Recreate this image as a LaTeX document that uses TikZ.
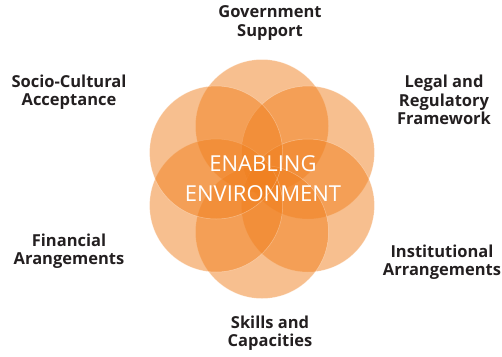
\documentclass[tikz,border=0pt]{standalone}
\usepackage{fontspec}
\usetikzlibrary{calc}
\setmainfont{Open Sans}
\newfontfamily\labelfont{Open Sans}
\definecolor{petal}{RGB}{240,128,31}
\definecolor{labeltext}{RGB}{35,31,32}
\begin{document}
\begin{tikzpicture}[x=1pt,y=-1pt,
  petalc/.style={circle, minimum size=133pt, inner sep=0pt, fill=petal, fill opacity=0.5, draw=white, draw opacity=0.35, line width=0.5pt},
  lab/.style={font=\labelfont\bfseries\fontsize{16.5}{18.5}\selectfont, text=labeltext, align=center},
  core/.style={font=\fontsize{22}{30}\selectfont, text=white, align=center}]
\useasboundingbox (0,0) rectangle (502,356);
\coordinate (c) at (262,179);
\node[petalc] (p1) at ($(c)+(0,-53)$) {};
\node[petalc] (p2) at ($(c)+(45.9,-26.5)$) {};
\node[petalc] (p3) at ($(c)+(45.9,26.5)$) {};
\node[petalc] (p4) at ($(c)+(0,53)$) {};
\node[petalc] (p5) at ($(c)+(-45.9,26.5)$) {};
\node[petalc] (p6) at ($(c)+(-45.9,-26.5)$) {};
\node[core] (core) at (263,179) {ENABLING\\ENVIRONMENT};
\node[lab] (gov) at (270,23) {Government\\Support};
\node[lab] (soc) at (69,92) {Socio-Cultural\\Acceptance};
\node[lab] (leg) at (444,100) {Legal and\\Regulatory\\Framework};
\node[lab] (fin) at (69,251) {Financial\\Arangements};
\node[lab] (ins) at (442,262) {Institutional\\Arrangements};
\node[lab] (ski) at (270,333) {Skills and\\Capacities};
\end{tikzpicture}
\end{document}
